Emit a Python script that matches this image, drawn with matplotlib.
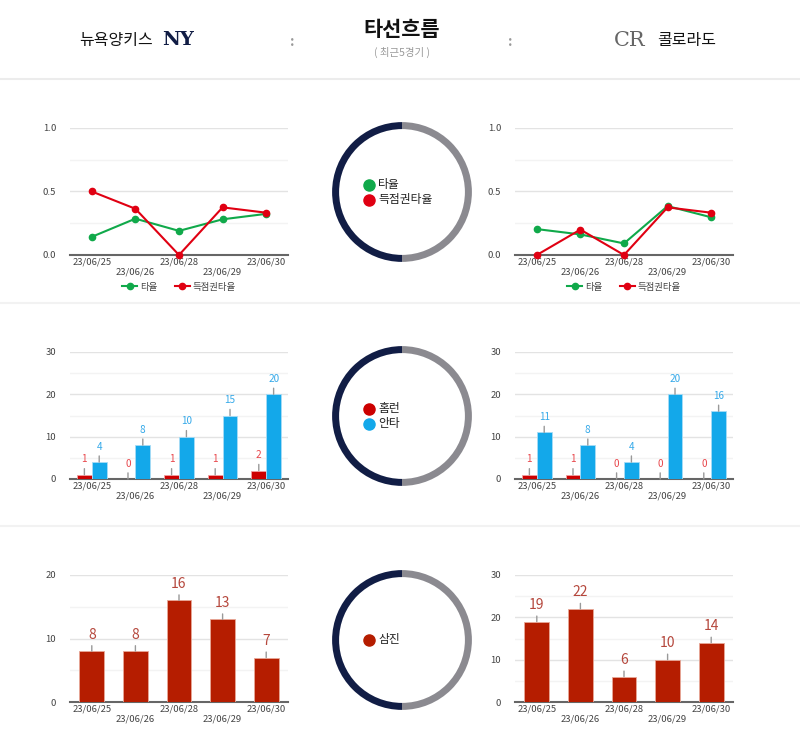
import matplotlib
matplotlib.use("Agg")
import matplotlib.pyplot as plt
import numpy as np

plt.rcParams['font.family'] = ['Noto Sans CJK KR', 'DejaVu Sans']

# ---------------- data ----------------
dates = ["23/06/25", "23/06/26", "23/06/28", "23/06/29", "23/06/30"]
team_left = "뉴욕양키스"
team_right = "콜로라도"
title = "타선흐름"
subtitle = "( 최근5경기 )"

nyy_avg = [0.143, 0.286, 0.190, 0.281, 0.324]
nyy_risp = [0.500, 0.364, 0.000, 0.375, 0.333]
col_avg = [0.204, 0.162, 0.091, 0.385, 0.297]
col_risp = [0.000, 0.200, 0.000, 0.375, 0.333]

nyy_hr = [1, 0, 1, 1, 2]
nyy_hits = [4, 8, 10, 15, 20]
col_hr = [1, 1, 0, 0, 0]
col_hits = [11, 8, 4, 20, 16]

nyy_so = [8, 8, 16, 13, 7]
col_so = [19, 22, 6, 10, 14]

donut_split = [1, 1]

line_names = ["타율", "득점권타율"]
bar_names = ["홈런", "안타"]
so_name = "삼진"

# ---------------- style ----------------
W, H = 800, 742
GREEN = "#10a94a"
RED_LINE = "#e00012"
RED_BAR = "#cc0000"
BLUE_BAR = "#13a8ea"
RED_LBL = "#e8464b"
BLUE_LBL = "#35a9e9"
SO_BAR = "#b51d00"
SO_LBL = "#b5473c"
NAVY = "#111d45"
GREY = "#8b8a90"
TXT = "#444444"

fig = plt.figure(figsize=(W / 100, H / 100), dpi=100)
fig.patch.set_facecolor("white")


def rect(x0, y0, x1, y1):
    return [x0 / W, 1 - y1 / H, (x1 - x0) / W, (y1 - y0) / H]


def fx(x):
    return x / W


def fy(y):
    return 1 - y / H


# ---------------- header ----------------
fig.text(fx(116), fy(40), team_left, ha="center", va="center", fontsize=11.5, color="#111")
fig.text(fx(687), fy(40), team_right, ha="center", va="center", fontsize=11.5, color="#111")
fig.text(fx(402), fy(30), title, ha="center", va="center", fontsize=15, color="#111",
         fontweight="bold")
fig.text(fx(402), fy(52), subtitle, ha="center", va="center", fontsize=7.5, color="#999")
fig.text(fx(292), fy(42), ":", ha="center", va="center", fontsize=10, color="#999", fontweight="bold")
fig.text(fx(510), fy(42), ":", ha="center", va="center", fontsize=10, color="#999", fontweight="bold")
# logos (approximate with letters)
fig.text(fx(178), fy(40), "NY", ha="center", va="center", fontsize=14, color=NAVY,
         family="DejaVu Serif", fontweight="bold")
fig.text(fx(630), fy(41), "CR", ha="center", va="center", fontsize=15, color="#666",
         family="DejaVu Serif")

# separators
for yy, c in [(79, "#ececec"), (303, "#f2f2f2"), (526, "#f2f2f2")]:
    fig.add_artist(plt.Line2D([0, 1], [fy(yy), fy(yy)], color=c, lw=1.5, transform=fig.transFigure))

x = np.arange(len(dates))
xlabels = [d if i % 2 == 0 else "\n" + d for i, d in enumerate(dates)]


def style_axes(ax, ymax, major, minor):
    ax.set_xlim(-0.5, len(dates) - 0.5)
    ax.set_ylim(0, ymax)
    for s in ["top", "right", "left"]:
        ax.spines[s].set_visible(False)
    ax.spines["bottom"].set_color("#666")
    ax.spines["bottom"].set_linewidth(1.5)
    ax.set_yticks(major)
    ax.set_yticks(minor, minor=True)
    ax.grid(True, axis="y", which="major", color="#e3e3e3", lw=1)
    ax.grid(True, axis="y", which="minor", color="#f3f3f3", lw=1)
    ax.set_axisbelow(True)
    ax.tick_params(axis="both", which="both", length=0, labelsize=6.8, colors=TXT)
    ax.tick_params(axis="y", pad=10)
    ax.tick_params(axis="x", pad=2)
    ax.set_xticks(x)
    ax.set_xticklabels(xlabels, linespacing=1.1)
    for t in ax.get_xticklabels():
        t.set_va("top")


# ---------------- line charts ----------------
for (x0, x1), avg, risp in [((70, 288), nyy_avg, nyy_risp), ((515, 733), col_avg, col_risp)]:
    ax = fig.add_axes(rect(x0, 128, x1, 255))
    style_axes(ax, 1.0, [0, 0.5, 1.0], [0.25, 0.75])
    ax.set_yticklabels(["0.0", "0.5", "1.0"])
    ax.plot(x, avg, color=GREEN, lw=1.5, marker="o", ms=4.5, clip_on=False, label=line_names[0], zorder=3)
    ax.plot(x, risp, color=RED_LINE, lw=1.5, marker="o", ms=4.5, clip_on=False, label=line_names[1], zorder=4)
    ax.legend(loc="upper center", bbox_to_anchor=(0.5, -0.15), ncol=2, frameon=False,
              fontsize=6.8, handlelength=1.6, columnspacing=1.8, handletextpad=0.3,
              labelcolor=TXT)


def label_bars(ax, xs, vals, color, fs, off):
    for xi, v in zip(xs, vals):
        ax.annotate(str(v), xy=(xi, v), xytext=(0, off), textcoords="offset points",
                    ha="center", va="center", fontsize=fs, color=color, zorder=5,
                    arrowprops=dict(arrowstyle="-", color="#999999", lw=1.0,
                                    shrinkA=1, shrinkB=0),
                    annotation_clip=False)


# ---------------- HR / hits bar charts ----------------
bw = 0.34
for (x0, x1), hr, hits in [((70, 288), nyy_hr, nyy_hits), ((515, 733), col_hr, col_hits)]:
    ax = fig.add_axes(rect(x0, 352, x1, 479))
    style_axes(ax, 30, [0, 10, 20, 30], [5, 15, 25])
    ax.bar(x - bw / 2, hr, width=bw, color=RED_BAR, edgecolor="#f0a0a0", lw=0.6, zorder=3)
    ax.bar(x + bw / 2, hits, width=bw, color=BLUE_BAR, edgecolor="#a8dcf6", lw=0.6, zorder=3)
    label_bars(ax, x - bw / 2, hr, RED_LBL, 7.2, 11)
    label_bars(ax, x + bw / 2, hits, BLUE_LBL, 7.2, 11)

# ---------------- strikeout bar charts ----------------
for (x0, x1), so, ymax, maj, mnr in [((70, 288), nyy_so, 20, [0, 10, 20], [5, 15]),
                                      ((515, 733), col_so, 30, [0, 10, 20, 30], [5, 15, 25])]:
    ax = fig.add_axes(rect(x0, 575, x1, 702))
    style_axes(ax, ymax, maj, mnr)
    ax.bar(x, so, width=0.57, color=SO_BAR, edgecolor="#e8a898", lw=0.6, zorder=3)
    label_bars(ax, x, so, SO_LBL, 10, 12)

# ---------------- donuts ----------------
def donut(cy, items):
    r = 70
    ax = fig.add_axes(rect(402 - r - 2, cy - r - 2, 402 + r + 2, cy + r + 2))
    ax.pie(donut_split, colors=[NAVY, GREY], startangle=90, counterclock=True,
           radius=1.0, wedgeprops=dict(width=0.1, linewidth=0))
    ax.set_xlim(-1.03, 1.03)
    ax.set_ylim(-1.03, 1.03)
    ax.set_aspect("equal")
    ax.axis("off")
    n = len(items)
    for i, (name, col) in enumerate(items):
        yy = cy + (i - (n - 1) / 2) * 15
        fig.add_artist(plt.Line2D([fx(369)], [fy(yy)], marker="o", ms=8, color=col,
                                  transform=fig.transFigure, linestyle="none"))
        fig.text(fx(378), fy(yy), name, ha="left", va="center", fontsize=8.5, color="#222")


donut(192, [(line_names[0], GREEN), (line_names[1], RED_LINE)])
donut(416, [(bar_names[0], RED_BAR), (bar_names[1], BLUE_BAR)])
donut(640, [(so_name, SO_BAR)])

fig.savefig("out.png", dpi=100, facecolor="white")
